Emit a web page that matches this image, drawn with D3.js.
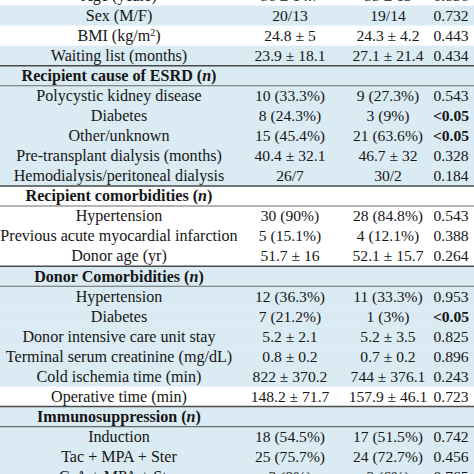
<!DOCTYPE html>
<html><head><meta charset="utf-8">
<script src="https://cdn.jsdelivr.net/npm/d3@7"></script>
<style>html,body{margin:0;padding:0;background:#fff;}svg{display:block;}</style>
</head><body>
<svg id="c" width="474" height="474"></svg>
<script>
const labels = ["Age (years)","Sex (M/F)","BMI (kg/m²)","Waiting list (months)",
 "Recipient cause of ESRD","Polycystic kidney disease","Diabetes","Other/unknown","Pre-transplant dialysis (months)","Hemodialysis/peritoneal dialysis",
 "Recipient comorbidities","Hypertension","Previous acute myocardial infarction","Donor age (yr)",
 "Donor Comorbidities","Hypertension","Diabetes","Donor intensive care unit stay","Terminal serum creatinine (mg/dL)","Cold ischemia time (min)","Operative time (min)",
 "Immunosuppression","Induction","Tac + MPA + Ster","CsA + MPA + Ster"];
const group1 = ["56 ± 14.7","20/13","24.8 ± 5","23.9 ± 18.1",
 "","10 (33.3%)","8 (24.3%)","15 (45.4%)","40.4 ± 32.1","26/7",
 "","30 (90%)","5 (15.1%)","51.7 ± 16",
 "","12 (36.3%)","7 (21.2%)","5.2 ± 2.1","0.8 ± 0.2","822 ± 370.2","148.2 ± 71.7",
 "","18 (54.5%)","25 (75.7%)","3 (9%)"];
const group2 = ["55 ± 13","19/14","24.3 ± 4.2","27.1 ± 21.4",
 "","9 (27.3%)","3 (9%)","21 (63.6%)","46.7 ± 32","30/2",
 "","28 (84.8%)","4 (12.1%)","52.1 ± 15.7",
 "","11 (33.3%)","1 (3%)","5.2 ± 3.5","0.7 ± 0.2","744 ± 376.1","157.9 ± 46.1",
 "","17 (51.5%)","24 (72.7%)","2 (6%)"];
const pValues = ["0.836","0.732","0.443","0.434",
 "","0.543","<0.05","<0.05","0.328","0.184",
 "","0.543","0.388","0.264",
 "","0.953","<0.05","0.825","0.896","0.243","0.723",
 "","0.742","0.456","0.765"];
const rowKind = ["w","b","w","b","hb","b","b","b","b","b","hw","w","w","w","hb","b","b","b","b","b","w","hb","b","b","b"];

const svg = d3.select("#c");
const n = labels.length;
const pitch = 20.05, top0 = -14.5;
const y = d3.scaleBand().domain(d3.range(n)).range([top0, top0 + pitch*n]).padding(0);
const xc = {label: 119, g1: 290, g2: 388, p: 451};

const blue = "#dbebf3";
const font = "'Liberation Serif', 'Times New Roman', serif";
const fs = 16.1, fv = 15.6;

// backgrounds
svg.selectAll("rect.bg").data(d3.range(n)).join("rect")
  .attr("x",0).attr("width",474)
  .attr("y", i => y(i)).attr("height", y.bandwidth()+0.5)
  .attr("fill", i => rowKind[i].endsWith("b") ? blue : "#ffffff");

// header rules
const headerIdx = d3.range(n).filter(i => rowKind[i].startsWith("h"));
headerIdx.forEach(i => {
  svg.append("line").attr("x1",0).attr("x2",474)
    .attr("y1", y(i)).attr("y2", y(i))
    .attr("stroke","#4a4a4a").attr("stroke-width",1.6);
  svg.append("line").attr("x1",0).attr("x2",474)
    .attr("y1", y(i)+y.bandwidth()).attr("y2", y(i)+y.bandwidth())
    .attr("stroke","#6a6a6a").attr("stroke-width",1.1);
});

const base = i => y(i) + y.bandwidth()/2 + 5.3;

// label column
const lab = svg.selectAll("text.lab").data(d3.range(n)).join("text")
  .attr("x", xc.label).attr("y", base).attr("text-anchor","middle")
  .attr("font-family", font).attr("font-size", fs).attr("fill","#161616");
lab.each(function(i){
  const t = d3.select(this);
  const s = labels[i];
  if (rowKind[i].startsWith("h")) {
    t.attr("font-weight","bold");
    t.append("tspan").text(s + " (");
    t.append("tspan").attr("font-style","italic").text("n");
    t.append("tspan").text(")");
  } else if (s.includes("²")) {
    const parts = s.split("²");
    t.append("tspan").text(parts[0]);
    t.append("tspan").attr("font-size", fs*0.62).attr("dy",-5).text("2");
    t.append("tspan").attr("dy",5).text(parts[1]);
  } else {
    t.text(s);
  }
});

function valueCol(arr, key, boldTest){
  svg.selectAll("text."+key).data(d3.range(n)).join("text")
    .attr("class", key)
    .attr("x", xc[key]).attr("y", base).attr("text-anchor","middle")
    .attr("font-family", font).attr("font-size", fv).attr("fill","#161616")
    .attr("font-weight", i => boldTest && boldTest(arr[i]) ? "bold" : null)
    .text(i => arr[i]);
}
valueCol(group1, "g1");
valueCol(group2, "g2");
valueCol(pValues, "p", v => v.startsWith("<"));
</script>
</body></html>
